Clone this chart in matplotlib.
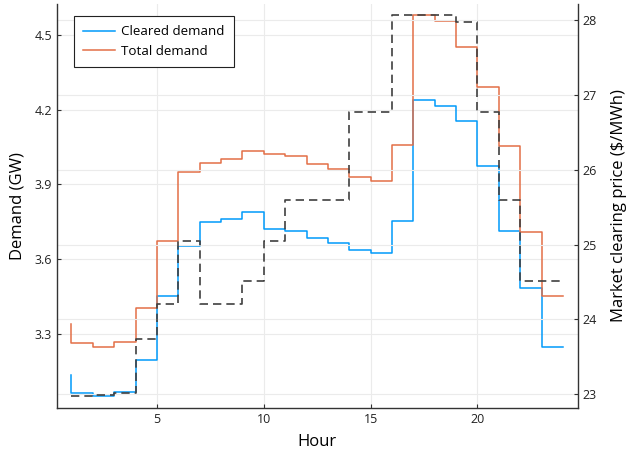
import matplotlib
matplotlib.use("Agg")
import matplotlib.pyplot as plt

plt.rcParams['font.family'] = ['Open Sans', 'DejaVu Sans']

hours = list(range(1, 25))
cleared_demand = [3.134, 3.061, 3.050, 3.067, 3.197, 3.453, 3.652, 3.748,
                  3.762, 3.791, 3.722, 3.713, 3.684, 3.664, 3.635, 3.623,
                  3.752, 4.237, 4.214, 4.154, 3.973, 3.713, 3.483, 3.246]
total_demand = [3.338, 3.264, 3.247, 3.266, 3.402, 3.673, 3.948, 3.985,
                4.002, 4.033, 4.022, 4.015, 3.982, 3.960, 3.930, 3.914,
                4.057, 4.579, 4.556, 4.449, 4.291, 4.055, 3.707, 3.453]
clearing_price = [22.97, 22.97, 22.99, 23.01, 23.74, 24.20, 25.05, 24.20,
                  24.20, 24.51, 25.05, 25.60, 25.60, 25.60, 26.77, 26.77,
                  28.07, 28.07, 28.07, 27.98, 26.77, 25.60, 24.51, 24.51]

left_ticks = [3.3, 3.6, 3.9, 4.2, 4.5]
right_ticks = [23, 24, 25, 26, 27, 28]
x_ticks = [5, 10, 15, 20]

fig = plt.figure(figsize=(6.26, 4.5), dpi=100)
ax = fig.add_axes([0.0906, 0.094, 0.9228 - 0.0906, 0.992 - 0.094])
ax2 = ax.twinx()

spine_col = '#333333'
grid_col = '#ebebeb'

l1, = ax.step(hours, cleared_demand, where='pre', color='#009AFA', lw=1.1,
              label='Cleared demand')
l2, = ax.step(hours, total_demand, where='pre', color='#E36F47', lw=1.1,
              label='Total demand')
ax2.step(hours, clearing_price, where='pre', color='#404040', lw=1.2,
         linestyle=(0, (5, 3)))

ax.set_xlim(0.31, 24.69)
ax.set_ylim(3.004, 4.625)
ax2.set_ylim(22.817, 28.223)

ax.set_xticks(x_ticks)
ax.set_yticks(left_ticks)
ax.set_yticklabels([f"{v:.1f}" for v in left_ticks])
ax2.set_yticks(right_ticks)

ax.grid(True, color=grid_col, lw=0.8)
ax2.grid(True, axis='y', color=grid_col, lw=0.8)
ax.set_axisbelow(True)
ax2.set_axisbelow(True)

# frame is drawn by the top axes so no grid line crosses it
for s in ('top', 'left', 'right', 'bottom'):
    ax.spines[s].set_visible(False)
ax2.spines['top'].set_visible(False)
for s in ('left', 'right', 'bottom'):
    ax2.spines[s].set_color(spine_col)
    ax2.spines[s].set_linewidth(1.0)

for a in (ax, ax2):
    a.tick_params(direction='in', length=3, width=0.8, color=spine_col,
                  labelsize=9, labelcolor='#222222')

ax.set_xlabel('Hour', fontsize=12, labelpad=6)
ax.set_ylabel('Demand (GW)', fontsize=12, labelpad=6)
ax2.set_ylabel('Market clearing price ($/MWh)', fontsize=12, labelpad=10)

leg = ax2.legend(handles=[l1, l2], loc='upper left',
                 bbox_to_anchor=(0.033, 0.969), borderaxespad=0,
                 fontsize=9.6, frameon=True,
                 fancybox=False, edgecolor='#222222', framealpha=1,
                 handlelength=2.4, handletextpad=0.45,
                 borderpad=0.7, labelspacing=0.5)
leg.get_frame().set_linewidth(0.8)

fig.savefig('out.png', dpi=100)
